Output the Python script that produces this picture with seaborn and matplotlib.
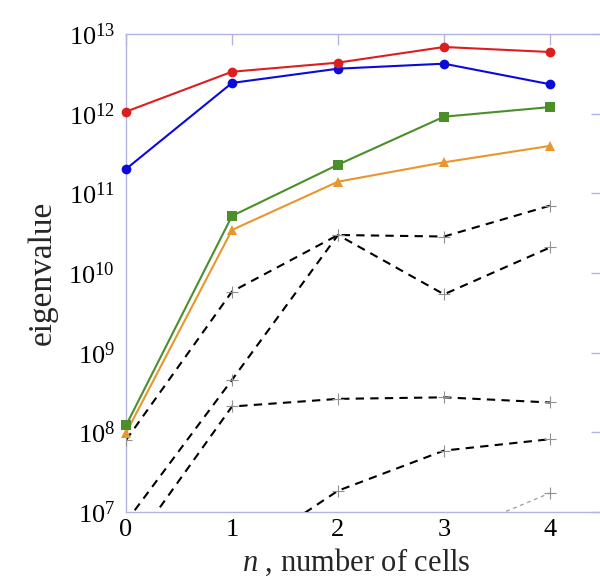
import numpy as np
import pandas as pd
import matplotlib
matplotlib.use("Agg")
import matplotlib.pyplot as plt
import matplotlib.ticker as mticker
import seaborn as sns

# ---- data ----
cells = [0, 1, 2, 3, 4]
red_vals = [1.06e12, 3.36e12, 4.37e12, 6.87e12, 5.94e12]
blue_vals = [2.02e11, 2.43e12, 3.67e12, 4.24e12, 2.34e12]
green_vals = [1.22e8, 5.2e10, 2.29e11, 9.16e11, 1.21e12]
orange_vals = [9.8e7, 3.47e10, 1.40e11, 2.45e11, 3.94e11]

dash_a_x = [0, 1, 2, 3, 4]
dash_a = [8.0e7, 5.85e9, 3.0e10, 2.87e10, 7.0e10]
dash_b_x = [0, 1, 2, 3, 4]
dash_b = [7.5e6, 4.56e8, 3.0e10, 5.4e9, 2.09e10]
dash_c_x = [0, 1, 2, 3, 4]
dash_c = [2.9e6, 2.11e8, 2.63e8, 2.75e8, 2.37e8]
dash_d_x = [1, 2, 3, 4]
dash_d = [2.4e6, 1.85e7, 5.9e7, 8.2e7]
dot_e_x = [3, 4]
dot_e = [4.8e6, 1.73e7]

xticks = [0, 1, 2, 3, 4]
yticks = [1e7, 1e8, 1e9, 1e10, 1e11, 1e12, 1e13]
ytick_labels = [r"$10^{7}$", r"$10^{8}$", r"$10^{9}$", r"$10^{10}$",
                r"$10^{11}$", r"$10^{12}$", r"$10^{13}$"]

sns.set_theme(style="white")
plt.rcParams["font.family"] = ["Liberation Serif", "DejaVu Serif"]
plt.rcParams["mathtext.fontset"] = "custom"
plt.rcParams["mathtext.rm"] = "Liberation Serif"
plt.rcParams["mathtext.it"] = "Liberation Serif:italic"

frame_col = "#b4b4e4"

fig = plt.figure(figsize=(6.0, 5.81), dpi=100)
ax = fig.add_axes([126 / 600, 69 / 581, 476 / 600, 478 / 581])

def draw(xs, ys, clip=True, **kw):
    df = pd.DataFrame({"x": xs, "y": ys})
    n0 = len(ax.lines)
    sns.lineplot(data=df, x="x", y="y", ax=ax, estimator=None, sort=False, **kw)
    for ln in ax.lines[n0:]:
        ln.set_clip_on(clip)
        ln.set_zorder(3)

# dashed black series with gray plus markers
for xs, ys in [(dash_a_x, dash_a), (dash_b_x, dash_b), (dash_c_x, dash_c), (dash_d_x, dash_d)]:
    draw(xs, ys, color="black", linewidth=1.5, linestyle=(0, (4, 3)),
         marker="+", markersize=8, markeredgecolor="#909090", markeredgewidth=0.8)
draw(dot_e_x, dot_e, color="#999999", linewidth=0.9, linestyle=(0, (3, 3)),
     marker="+", markersize=8, markeredgecolor="#909090", markeredgewidth=0.8)

draw(cells, orange_vals, clip=False, color="#e8962e", linewidth=1.5, marker="^",
     markersize=7, markeredgewidth=0)
draw(cells, green_vals, clip=False, color="#4a8f2a", linewidth=1.5, marker="s",
     markersize=7, markeredgewidth=0)
draw(cells, blue_vals, clip=False, color="#0a0adc", linewidth=1.5, marker="o",
     markersize=7, markeredgewidth=0)
draw(cells, red_vals, clip=False, color="#dc1e1e", linewidth=1.5, marker="o",
     markersize=7, markeredgewidth=0)

ax.set_yscale("log")
ax.set_xlim(0, 476 / 106)
ax.set_ylim(1e7, 1e13)
ax.set_xticks(xticks)
ax.set_xticklabels([str(t) for t in xticks])
ax.set_yticks(yticks)
ax.set_yticklabels(ytick_labels)
ax.yaxis.set_minor_locator(mticker.NullLocator())

for s in ax.spines.values():
    s.set_color(frame_col)
    s.set_linewidth(1.0)
    s.set_visible(True)

ax.tick_params(axis="both", which="major", direction="in", length=8, width=1.0,
               color=frame_col, labelsize=19, top=True, right=True,
               labelcolor="black")
ax.tick_params(axis="x", pad=5)
ax.tick_params(axis="y", pad=8)

ax.set_xlabel(r"$\mathit{n}$ , number of cells", fontsize=22)
ax.xaxis.set_label_coords((356 - 126) / 476, -0.072)
ax.set_ylabel("eigenvalue", fontsize=24, labelpad=8)

fig.savefig("out.png", dpi=100)
